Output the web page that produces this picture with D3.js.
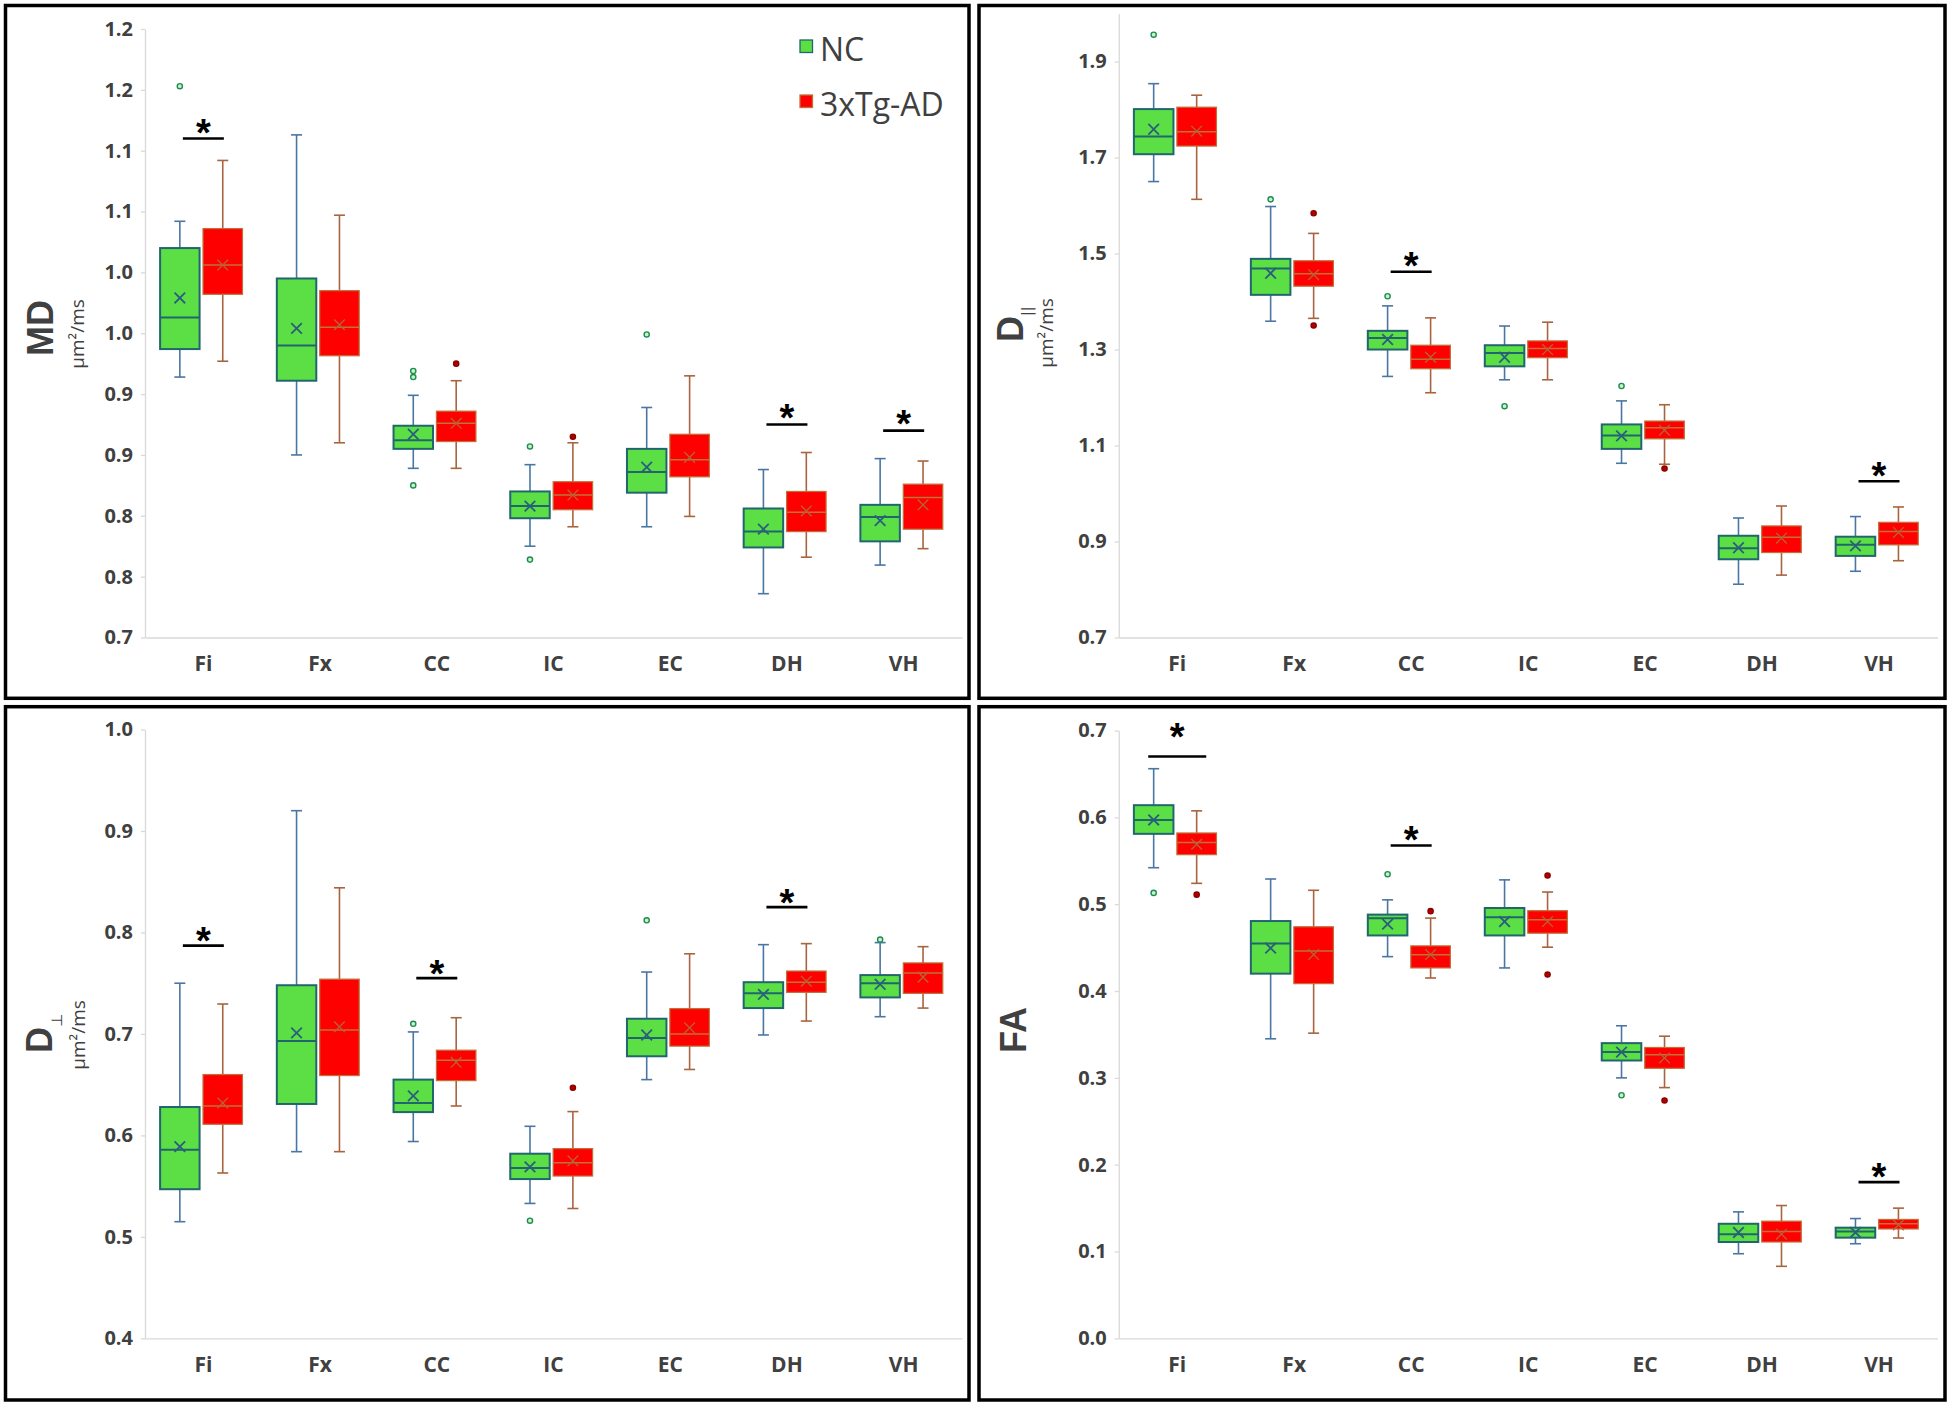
<!DOCTYPE html>
<html><head><meta charset="utf-8">
<script src="https://cdn.jsdelivr.net/npm/d3@7"></script>
<style>body{margin:0;background:#fff} svg{display:block}</style>
</head><body>
<svg id="chart" width="1950" height="1406"></svg>
<script>
const categories = ["Fi","Fx","CC","IC","EC","DH","VH"];
const groups = ["NC","3xTg-AD"];

// each row: [whiskerLow, q1, median, q3, whiskerHigh, mean]
const mdNC = [[0.914,0.937,0.963,1.020,1.042,0.979],[0.850,0.911,0.940,0.995,1.113,0.954],[0.839,0.855,0.862,0.874,0.899,0.867],[0.775,0.798,0.808,0.820,0.842,0.808],[0.791,0.819,0.836,0.855,0.889,0.840],[0.736,0.774,0.787,0.806,0.838,0.789],[0.7595,0.779,0.799,0.809,0.847,0.796]];
const mdAD = [[0.927,0.982,1.006,1.036,1.092,1.006],[0.860,0.9315,0.955,0.985,1.047,0.957],[0.839,0.861,0.876,0.886,0.911,0.876],[0.791,0.805,0.817,0.828,0.860,0.817],[0.7995,0.832,0.846,0.867,0.915,0.848],[0.766,0.787,0.803,0.820,0.852,0.804],[0.773,0.789,0.815,0.826,0.845,0.809]];
const mdOutNC = [["Fi",1.153],["CC",0.919],["CC",0.914],["CC",0.825],["IC",0.857],["IC",0.764],["EC",0.949]];
const mdOutAD = [["CC",0.925],["IC",0.865]];
const mdSig = [["Fi",1.110,1.122,false],["DH",0.875,0.888,false],["VH",0.870,0.883,false]];
const mdTicks = [0.7,0.75,0.8,0.85,0.9,0.95,1.0,1.05,1.1,1.15,1.2];
const mdTickLabels = ["0.7","0.8","0.8","0.9","0.9","1.0","1.0","1.1","1.1","1.2","1.2"];

const dparNC = [[1.650,1.707,1.744,1.801,1.854,1.759],[1.359,1.414,1.469,1.489,1.598,1.459],[1.244,1.300,1.324,1.339,1.391,1.321],[1.237,1.265,1.293,1.309,1.349,1.284],[1.063,1.093,1.121,1.144,1.193,1.120],[0.811,0.863,0.886,0.912,0.949,0.887],[0.838,0.870,0.893,0.910,0.952,0.891]];
const dparAD = [[1.613,1.724,1.754,1.805,1.830,1.755],[1.365,1.432,1.458,1.485,1.542,1.456],[1.210,1.260,1.280,1.309,1.366,1.284],[1.237,1.283,1.302,1.318,1.357,1.300],[1.061,1.114,1.137,1.151,1.185,1.132],[0.830,0.877,0.909,0.9325,0.974,0.907],[0.860,0.893,0.921,0.940,0.972,0.919]];
const dparOutNC = [["Fi",1.956],["Fx",1.613],["CC",1.411],["IC",1.182],["EC",1.224]];
const dparOutAD = [["Fx",1.584],["Fx",1.350],["EC",1.052]];
const dparSig = [["CC",1.462,1.493,false],["VH",1.0255,1.056,false]];
const dparTicks = [0.7,0.9,1.1,1.3,1.5,1.7,1.9];
const dparTickLabels = ["0.7","0.9","1.1","1.3","1.5","1.7","1.9"];

const dperpNC = [[0.515,0.547,0.586,0.628,0.750,0.589],[0.584,0.631,0.693,0.748,0.920,0.701],[0.594,0.623,0.632,0.655,0.702,0.639],[0.533,0.557,0.568,0.582,0.609,0.569],[0.655,0.678,0.696,0.715,0.761,0.699],[0.699,0.7255,0.740,0.751,0.788,0.739],[0.717,0.736,0.750,0.758,0.790,0.749]];
const dperpAD = [[0.563,0.611,0.629,0.660,0.7295,0.632],[0.584,0.659,0.704,0.754,0.844,0.707],[0.629,0.654,0.674,0.684,0.716,0.672],[0.528,0.560,0.573,0.587,0.6235,0.575],[0.665,0.688,0.700,0.725,0.779,0.706],[0.7127,0.741,0.751,0.762,0.789,0.752],[0.7255,0.740,0.760,0.770,0.786,0.756]];
const dperpOutNC = [["CC",0.710],["IC",0.516],["EC",0.812],["VH",0.793]];
const dperpOutAD = [["IC",0.647]];
const dperpSig = [["Fi",0.787,0.800,false],["CC",0.755,0.768,false],["DH",0.825,0.838,false]];
const dperpTicks = [0.4,0.5,0.6,0.7,0.8,0.9,1.0];
const dperpTickLabels = ["0.4","0.5","0.6","0.7","0.8","0.9","1.0"];

const faNC = [[0.542,0.581,0.597,0.614,0.656,0.597],[0.345,0.420,0.4546,0.4806,0.529,0.4495],[0.4396,0.464,0.4837,0.488,0.505,0.477],[0.4266,0.464,0.485,0.4956,0.528,0.480],[0.300,0.320,0.3297,0.340,0.360,0.3297],[0.0975,0.111,0.120,0.132,0.1457,0.122],[0.109,0.116,0.123,0.1275,0.138,0.122]];
const faAD = [[0.524,0.557,0.571,0.582,0.6075,0.569],[0.3515,0.4085,0.446,0.474,0.516,0.442],[0.415,0.4266,0.4417,0.452,0.484,0.442],[0.4505,0.4666,0.482,0.4925,0.514,0.480],[0.2888,0.311,0.3266,0.335,0.348,0.323],[0.083,0.111,0.123,0.135,0.153,0.120],[0.1156,0.126,0.132,0.137,0.150,0.1306]];
const faOutNC = [["Fi",0.513],["CC",0.5345],["EC",0.280]];
const faOutAD = [["Fi",0.511],["CC",0.492],["IC",0.533],["IC",0.419],["EC",0.274]];
const faSig = [["Fi",0.670,0.703,true],["CC",0.5676,0.584,false],["VH",0.180,0.196,false]];
const faTicks = [0,0.1,0.2,0.3,0.4,0.5,0.6,0.7];
const faTickLabels = ["0.0","0.1","0.2","0.3","0.4","0.5","0.6","0.7"];

const svg = d3.select("#chart");
const TXT = "#404040";

const panels = [
  {frame:[5.5,5.5,969,698.3], xr:[145,962], yr:[637.5,29], domain:[0.7,1.2], ticks:mdTicks, labels:mdTickLabels, nc:mdNC, ad:mdAD, outNC:mdOutNC, outAD:mdOutAD, sig:mdSig,
   title:{main:"MD", sub:null, x:53, y:328, anchor:"middle"}, unit:{x:84, y:334}},
  {frame:[979,5.5,1945,698.3], xr:[1118.75,1937.5], yr:[637.5,13.6], domain:[0.7,2.0], ticks:dparTicks, labels:dparTickLabels, nc:dparNC, ad:dparAD, outNC:dparOutNC, outAD:dparOutAD, sig:dparSig,
   title:{main:"D", sub:"||", x:1023, y:342, anchor:"start", subSize:14, subDy:9}, unit:{x:1053, y:333}},
  {frame:[5.5,706.7,969,1400], xr:[145,962], yr:[1338.4,729.5], domain:[0.4,1.0], ticks:dperpTicks, labels:dperpTickLabels, nc:dperpNC, ad:dperpAD, outNC:dperpOutNC, outAD:dperpOutAD, sig:dperpSig,
   title:{main:"D", sub:"\u22A5", x:52, y:1053, anchor:"start", subSize:15, subDy:10}, unit:{x:85, y:1035}},
  {frame:[979,706.7,1945,1400], xr:[1118.75,1937.5], yr:[1338.4,730.5], domain:[0,0.7], ticks:faTicks, labels:faTickLabels, nc:faNC, ad:faAD, outNC:faOutNC, outAD:faOutAD, sig:faSig,
   title:{main:"FA", sub:null, x:1026, y:1030, anchor:"middle"}, unit:null}
];

const styles = {
  "NC": {fill:"#5CDF45", stroke:"#21666E", sw:2, whisker:"#4A76A3", median:"#21666E", mw:2, mean:"#2B5E7E", meanW:1.8, outFill:"#C8F5B8", outStroke:"#1E8A5A"},
  "3xTg-AD": {fill:"#FF0000", stroke:"#C0703A", sw:1.2, whisker:"#A8643E", median:"#C0703A", mw:1.5, mean:"#B46436", meanW:1.3, outFill:"#B00000", outStroke:"#8B0000"}
};

panels.forEach(p => {
  const g = svg.append("g");
  g.append("rect").attr("x",p.frame[0]).attr("y",p.frame[1])
    .attr("width",p.frame[2]-p.frame[0]).attr("height",p.frame[3]-p.frame[1])
    .attr("fill","none").attr("stroke","#000").attr("stroke-width",3.5);

  const x = d3.scaleBand().domain(categories).range(p.xr).padding(0);
  const xg = d3.scaleBand().domain(groups).range([0,x.bandwidth()]).paddingInner(0.08).paddingOuter(0.4).align(0.44);
  const y = d3.scaleLinear().domain(p.domain).range(p.yr);

  const ya = g.append("g").attr("transform",`translate(${p.xr[0]},0)`)
    .call(d3.axisLeft(y).tickValues(p.ticks).tickFormat((d,i)=>p.labels[i]).tickSize(4).tickSizeOuter(0).tickPadding(8));
  ya.select(".domain").attr("stroke","#d9d9d9").attr("stroke-width",1.3);
  ya.selectAll(".tick line").attr("stroke","#d9d9d9").attr("stroke-width",1.3);
  ya.selectAll(".tick text").attr("fill",TXT).style("font-family","'Open Sans', sans-serif").style("font-weight","bold").style("font-size","20px");

  const xa = g.append("g").attr("transform",`translate(0,${p.yr[0]})`)
    .call(d3.axisBottom(x).tickSize(0).tickSizeOuter(0).tickPadding(19));
  xa.select(".domain").attr("stroke","#d9d9d9").attr("stroke-width",1.3);
  xa.selectAll(".tick text").attr("fill",TXT).style("font-family","'Open Sans', sans-serif").style("font-weight","bold").style("font-size","21px");

  // titles
  const t = g.append("text").attr("transform",`translate(${p.title.x},${p.title.y}) rotate(-90)`)
    .attr("text-anchor",p.title.anchor).attr("fill",TXT)
    .style("font-family","'Liberation Sans', Arial, sans-serif").style("font-weight","bold").style("font-size","36px");
  t.append("tspan").text(p.title.main);
  if (p.title.sub) {
    t.append("tspan").attr("dy",p.title.subDy).style("font-size",p.title.subSize+"px")
      .style("font-family","'DejaVu Sans', sans-serif").style("font-weight","normal").text(p.title.sub);
  }
  if (p.unit) {
    g.append("text").attr("transform",`translate(${p.unit.x},${p.unit.y}) rotate(-90)`)
      .attr("text-anchor","middle").attr("fill",TXT)
      .style("font-family","'Open Sans', sans-serif").style("font-size","19px").text("\u00B5m\u00B2/ms");
  }

  const series = [{key:"NC", stats:p.nc, out:p.outNC},{key:"3xTg-AD", stats:p.ad, out:p.outAD}];
  series.forEach(s => {
    const st = styles[s.key];
    const bw = xg.bandwidth();
    const gg = g.append("g");
    categories.forEach((c,i) => {
      const [lo,q1,md,q3,hi,mean] = s.stats[i];
      const cx = x(c) + xg(s.key) + bw/2;
      const cap = 5.5;
      gg.append("line").attr("x1",cx).attr("x2",cx).attr("y1",y(hi)).attr("y2",y(q3)).attr("stroke",st.whisker).attr("stroke-width",1.6);
      gg.append("line").attr("x1",cx).attr("x2",cx).attr("y1",y(q1)).attr("y2",y(lo)).attr("stroke",st.whisker).attr("stroke-width",1.6);
      gg.append("line").attr("x1",cx-cap).attr("x2",cx+cap).attr("y1",y(hi)).attr("y2",y(hi)).attr("stroke",st.whisker).attr("stroke-width",1.6);
      gg.append("line").attr("x1",cx-cap).attr("x2",cx+cap).attr("y1",y(lo)).attr("y2",y(lo)).attr("stroke",st.whisker).attr("stroke-width",1.6);
      gg.append("rect").attr("x",cx-bw/2).attr("y",y(q3)).attr("width",bw).attr("height",y(q1)-y(q3))
        .attr("fill",st.fill).attr("stroke",st.stroke).attr("stroke-width",st.sw);
      gg.append("line").attr("x1",cx-bw/2).attr("x2",cx+bw/2).attr("y1",y(md)).attr("y2",y(md)).attr("stroke",st.median).attr("stroke-width",st.mw);
      const m = 5.3, my = y(mean);
      gg.append("path").attr("d",`M${cx-m},${my-m}L${cx+m},${my+m}M${cx-m},${my+m}L${cx+m},${my-m}`)
        .attr("stroke",st.mean).attr("stroke-width",st.meanW).attr("fill","none");
    });
    s.out.forEach(o => {
      const cx = x(o[0]) + xg(s.key) + bw/2;
      gg.append("circle").attr("cx",cx).attr("cy",y(o[1])).attr("r",2.6)
        .attr("fill",st.outFill).attr("stroke",st.outStroke).attr("stroke-width",1.4);
    });
  });

  // significance
  p.sig.forEach(s => {
    const cx = x(s[0]) + x.bandwidth()/2;
    const hw = s[3] ? 29 : 20.5;
    g.append("line").attr("x1",cx-hw).attr("x2",cx+hw).attr("y1",y(s[1])).attr("y2",y(s[1]))
      .attr("stroke","#000").attr("stroke-width",2.6);
    g.append("text").attr("x",cx).attr("y",y(s[2])+22).attr("text-anchor","middle")
      .style("font-family","'Liberation Sans', Arial, sans-serif").style("font-weight","bold").style("font-size","38px")
      .attr("fill","#000").text("*");
  });
});

// legend (top-left panel)
const legend = svg.append("g");
groups.forEach((gname,i) => {
  const st = styles[gname];
  const ly = [40, 95][i];
  legend.append("rect").attr("x",800).attr("y",ly).attr("width",12.5).attr("height",12.5)
    .attr("fill",st.fill).attr("stroke",i===0?"#21666E":"#C0703A").attr("stroke-width",1.3);
  legend.append("text").attr("x",820).attr("y",ly+21).attr("fill",TXT)
    .style("font-family","'Open Sans', sans-serif").style("font-size","32px").text(gname);
});
</script>
</body></html>
